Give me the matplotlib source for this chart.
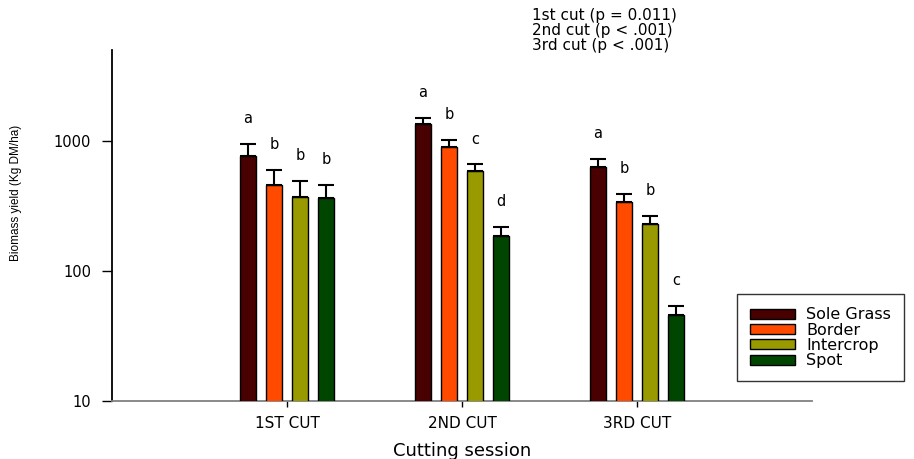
import numpy as np
import matplotlib.pyplot as plt
from matplotlib import font_manager
from matplotlib.patches import Patch

# ============================================================
# DATA
# ============================================================

sessions = ["1ST CUT", "2ND CUT", "3RD CUT"]
treatments = ["Sole Grass", "Border", "Intercrop", "Spot"]

sole_grass = [771, 1351, 631]
border = [456, 894, 341]
intercrop = [373, 591, 230]
spot = [362, 185, 45.6]

sole_grass_err = [178, 161, 100]
border_err = [142, 130, 52]
intercrop_err = [119, 71, 36]
spot_err = [97, 34, 8.5]

sole_grass_letters = ["a", "a", "a"]
border_letters = ["b", "b", "b"]
intercrop_letters = ["b", "c", "b"]
spot_letters = ["b", "d", "c"]

p_text = "1st cut (p = 0.011)\n2nd cut (p < .001)\n3rd cut (p < .001)"

colors = ["#480000", "#ff4a00", "#999900", "#004600"]

# ============================================================
# PLOT
# ============================================================

plt.rcParams["font.family"] = ["DejaVu Sans"]

installed = {f.name for f in font_manager.fontManager.ttflist}
narrow = "Liberation Sans Narrow" if "Liberation Sans Narrow" in installed else "Liberation Sans"
ylab_size = 9.5 if narrow == "Liberation Sans Narrow" else 8.5

fig = plt.figure(figsize=(9.14, 4.59), dpi=100)
ax = fig.add_axes([0.1225, 0.1264, 0.7659, 0.7646])

values = [sole_grass, border, intercrop, spot]
errors = [sole_grass_err, border_err, intercrop_err, spot_err]
letters = [sole_grass_letters, border_letters, intercrop_letters, spot_letters]

x = np.arange(1, len(sessions) + 1)
width = 0.092
step = 0.149
offsets = (np.arange(4) - 1.5) * step

for i in range(4):
    xs = x + offsets[i]
    ax.bar(xs, values[i], width=width, color=colors[i],
           edgecolor="black", linewidth=1.0, zorder=3)
    ax.errorbar(xs, values[i], yerr=[np.zeros(3), errors[i]],
                fmt="none", ecolor="black", elinewidth=1.5,
                capsize=5.8, capthick=1.5, zorder=4)
    for j in range(3):
        ax.annotate(letters[i][j], (xs[j], values[i][j] + errors[i][j]),
                    xytext=(0, 25), textcoords="offset pixels",
                    ha="center", va="center", fontsize=10.5)

ax.set_yscale("log")
ax.set_ylim(10, 5000)
ax.set_xlim(0, 4)

ax.set_yticks([10, 100, 1000])
ax.set_yticklabels(["10", "100", "1000"], fontsize=10.5)
ax.yaxis.set_minor_locator(plt.NullLocator())
ax.set_xticks(x)
ax.set_xticklabels(sessions, fontsize=11)

ax.tick_params(axis="y", direction="out", length=7, width=1, pad=8)
ax.tick_params(axis="x", direction="out", length=4, width=1, pad=7)

for s in ["top", "right"]:
    ax.spines[s].set_visible(False)
ax.spines["left"].set_linewidth(1.3)
ax.spines["bottom"].set_color("#808080")
ax.spines["bottom"].set_linewidth(1.3)

ax.set_xlabel("Cutting session", fontsize=13, labelpad=8)
ax.set_ylabel("Biomass yield (Kg DM/ha)", fontsize=ylab_size, family=narrow)
ax.yaxis.set_label_coords(-0.128, 0.593)

fig.text(532 / 914, 1 - 8 / 459, p_text, fontsize=11, ha="left", va="top",
         linespacing=1.0)

handles = [Patch(facecolor=c, edgecolor="black", linewidth=1.0) for c in colors]
leg = ax.legend(handles, treatments, loc="lower left",
                bbox_to_anchor=(737 / 914, 78 / 459),
                bbox_transform=fig.transFigure,
                fontsize=11.5, frameon=True, fancybox=False,
                edgecolor="black", handlelength=2.8, handleheight=0.6,
                handletextpad=0.75, labelspacing=0.02, borderpad=0.8,
                borderaxespad=0)
leg.get_frame().set_linewidth(1.0)

fig.savefig("out.png", dpi=100)
